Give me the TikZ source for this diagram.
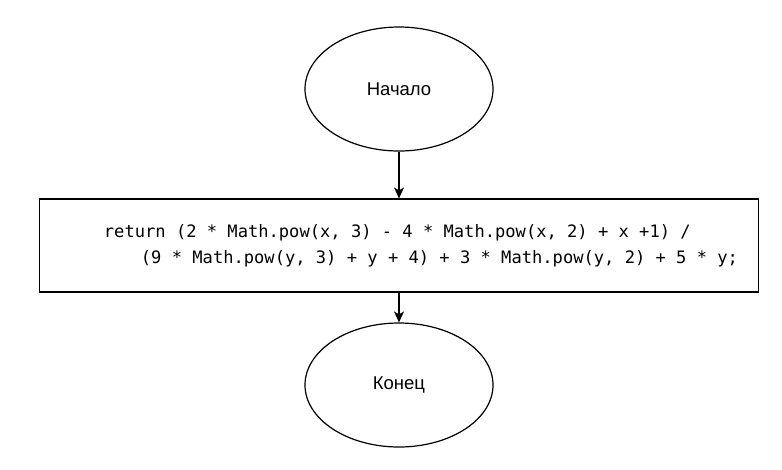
\documentclass[tikz,border=0pt]{standalone}
\usepackage{fontspec}
\setmainfont{Liberation Sans}
\setmonofont{DejaVu Sans Mono}
\usetikzlibrary{shapes,arrows.meta,positioning}

\begin{document}
\begin{tikzpicture}[x=1pt, y=1pt, node distance=156.5pt, auto]
    % Define styles
    \tikzstyle{terminal} = [ellipse, draw=black, line width=1.2pt, minimum width=188pt, minimum height=124pt, inner sep=0pt, font=\fontsize{18.5}{22}\selectfont]
    \tikzstyle{process} = [rectangle, draw=black, line width=1.2pt, minimum width=719pt, minimum height=93pt, align=left, font=\fontsize{17.1}{26}\selectfont\ttfamily]
    \tikzstyle{arrow} = [line width=1.2pt,-{Stealth[length=11pt,width=10pt,inset=3pt]}]

    \useasboundingbox (0,0) rectangle (782,-469);

    % Flow steps
    \node [terminal] (start) at (399,-89) {Начало};
    \node [process, below of=start] (calc) {\hspace*{44pt}return (2 * Math.pow(x, 3) - 4 * Math.pow(x, 2) + x +1) /\\
        \hspace*{81pt}(9 * Math.pow(y, 3) + y + 4) + 3 * Math.pow(y, 2) + 5 * y;};
    \node [terminal, below of=calc, node distance=139.5pt] (stop) {Конец};

    % Arrows
    \draw [arrow] (start) -- (calc);
    \draw [arrow] (calc) -- (stop);
\end{tikzpicture}
\end{document}
